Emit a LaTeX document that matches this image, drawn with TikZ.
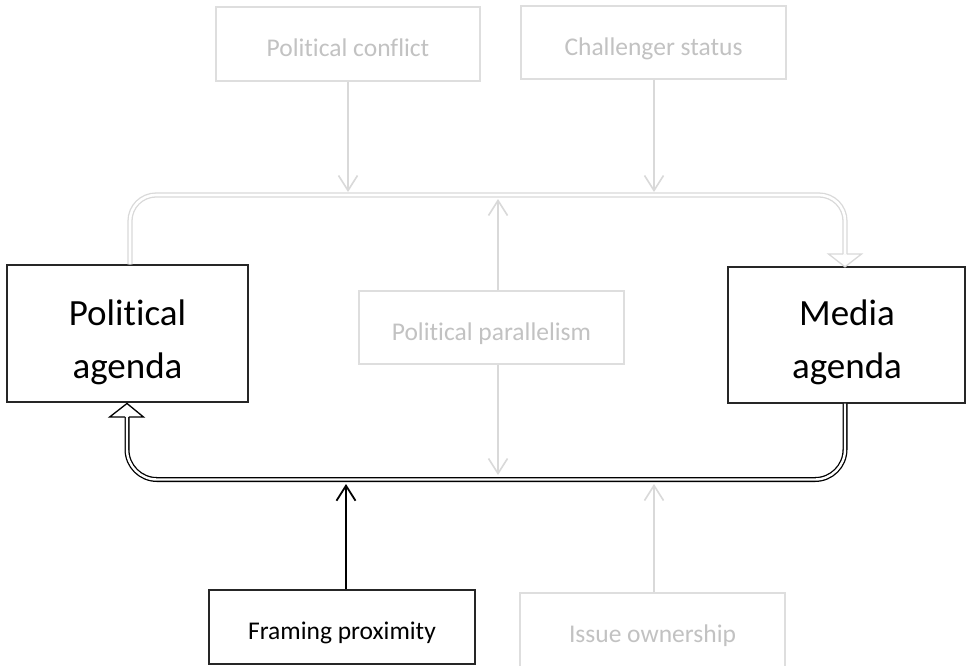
\documentclass[tikz,border=0pt]{standalone}
\usepackage{fontspec}
\setmainfont{Carlito}[RawFeature={-liga;-clig;-dlig;-calt;-hlig}]
\usetikzlibrary{arrows.meta}
\begin{document}
\begin{tikzpicture}[x=1pt,y=-1pt,
  gbox/.style={draw=black!13, line width=1.3pt, minimum width=264pt, minimum height=74pt, inner sep=0pt,
    text=black!24, font=\fontsize{25.5}{30}\selectfont, text height=25.5pt, text depth=0pt},
  bbox/.style={gbox, draw=black!85, text=black},
  bigbox/.style={draw=black!85, line width=1.3pt, inner sep=0pt},
  bigtext/.style={font=\fontsize{37}{44}\selectfont, anchor=base, inner sep=0pt},
  garrow/.style={draw=black!15, line width=1.6pt, -{Straight Barb[length=15pt,width=19pt]}},
  barrow/.style={draw=black, line width=1.8pt, -{Straight Barb[length=15pt,width=19pt]}},
  gdouble/.style={draw=black!15, line width=1.3pt, double=white, double distance=2.6pt},
  bdouble/.style={draw=black, line width=1.3pt, double=white, double distance=2.4pt},
  ghead/.style={draw=black!15, line width=1.3pt, line join=miter},
  bhead/.style={draw=black, line width=1.3pt, line join=miter}]
\clip (0,0) rectangle (966,665);
\fill[white] (0,0) rectangle (966,665);

% boxes
\node[gbox] (pc) at (348,44) {Polit\kern0pt ical conflict};
\node[gbox, minimum width=265pt, minimum height=73pt] (cs) at (653.5,42.5) {Challenger status};
\node[gbox, minimum width=265pt, minimum height=73pt] (pp) at (491.5,327.5) {Polit\kern0pt ical parallelism};
\node[bbox, minimum width=266pt] (fp) at (342,627) {Framing proximity};
\node[gbox, minimum width=265pt] (io) at (652.5,630) {Issue ownership};
\node[bigbox, minimum width=241pt, minimum height=137pt] (pa) at (127.5,333.5) {};
\node[bigbox, minimum width=237pt, minimum height=136pt] (ma) at (846.5,335) {};

\node[bigtext] (pa1) at (127.5,325) {Polit\kern0pt ical};
\node[bigtext] (pa2) at (127.5,378) {agenda};
\node[bigtext] (ma1) at (847,325) {Media};
\node[bigtext] (ma2) at (847,378) {agenda};

% coordinates
\coordinate (t1) at (130,195);
\coordinate (t2) at (845,195);
\coordinate (tend) at (845,254);
\coordinate (b1) at (845,479.5);
\coordinate (b2) at (127,479.5);
\coordinate (bend) at (127,417);

% top gray double connector
\draw[gdouble, rounded corners=26pt] ([xshift=2.5pt]pa.north) -- (t1) -- (t2) -- (tend);
\draw[ghead] ([xshift=-1.95pt]tend) -- ++(-14.5,0) -- ([yshift=-0.5pt]ma.north -| tend) -- ([xshift=16.5pt]tend) -- ([xshift=1.95pt]tend);

% bottom black double connector
\draw[bdouble, rounded corners=30pt] ([xshift=-1.5pt]ma.south) -- (b1) -- (b2) -- (bend);
\draw[bhead] ([xshift=-1.85pt]bend) -- ++(-15.5,0) -- ([yshift=-0.8pt]pa.south -| bend) -- ([xshift=16.5pt]bend) -- ([xshift=1.85pt]bend);

% thin arrows
\coordinate (pcT) at (348,192);
\coordinate (csT) at (654,192);
\coordinate (ppU) at (498,199);
\coordinate (ppD) at (498,475);
\coordinate (ioT) at (654,484);
\coordinate (fpT) at (346,484);
\draw[garrow] (pc.south) -- (pcT);
\draw[garrow] (cs.south -| csT) -- (csT);
\draw[garrow] (pp.north -| ppU) -- (ppU);
\draw[garrow] (pp.south -| ppD) -- (ppD);
\draw[garrow] (io.north -| ioT) -- (ioT);
\draw[barrow] (fp.north -| fpT) -- (fpT);
\end{tikzpicture}
\end{document}
